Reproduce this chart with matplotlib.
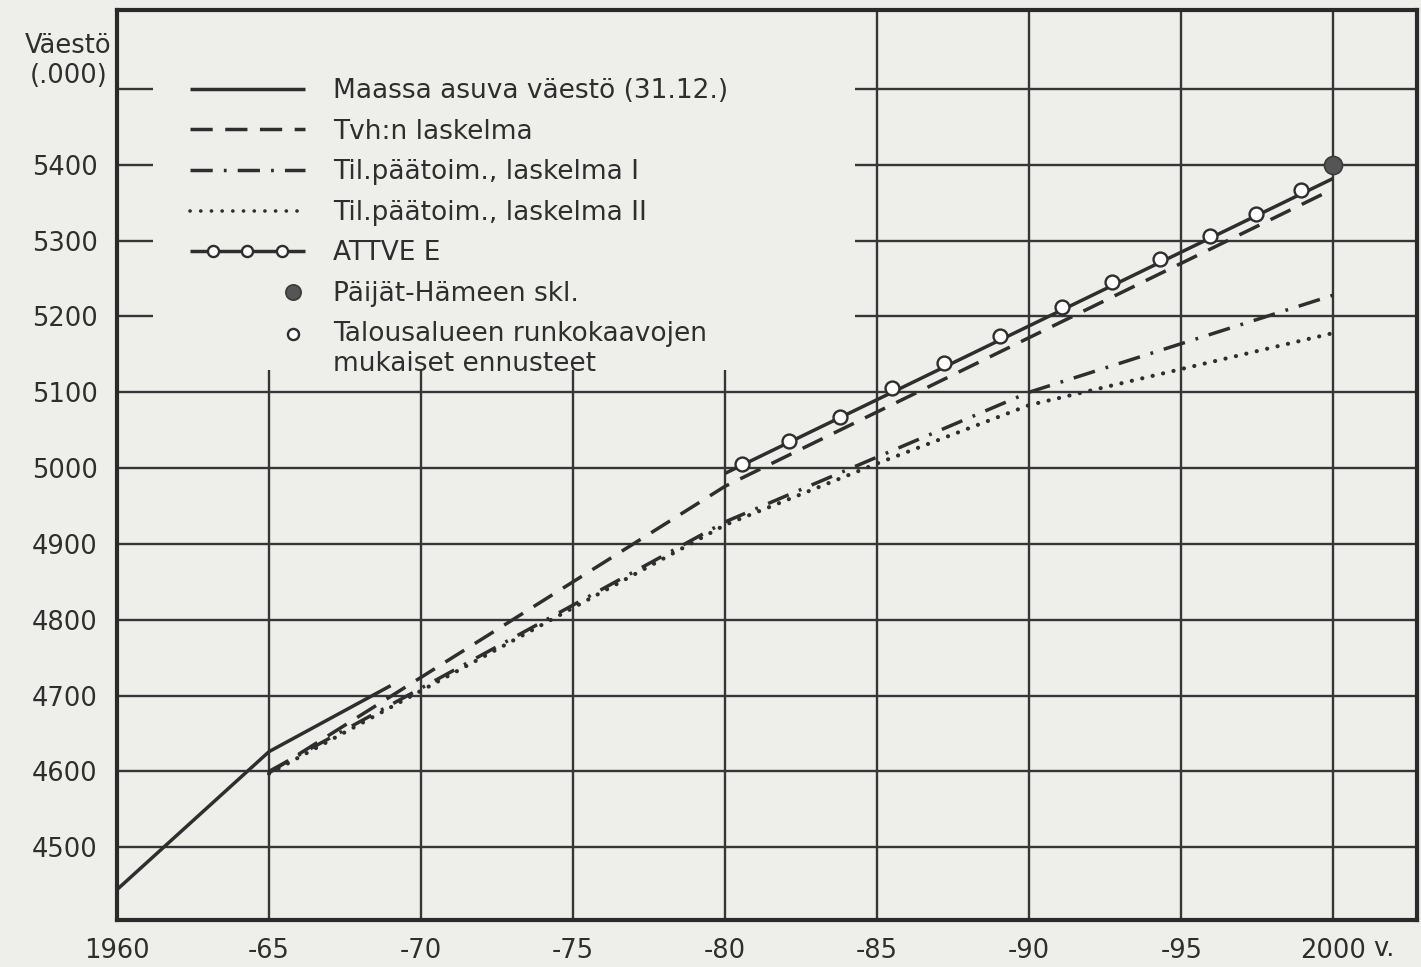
import numpy as np
import matplotlib
matplotlib.use("Agg")
import matplotlib.pyplot as plt
from matplotlib.lines import Line2D
from matplotlib.patches import Rectangle

plt.rcParams['font.family'] = ['DejaVu Sans']
plt.rcParams['lines.scale_dashes'] = False

""" data read off the chart (population, thousands) """
maassa_years = [1960, 1965, 1969]
maassa_vals = [4444, 4626, 4713]

tvh_years = [1965, 1980, 2000]
tvh_vals = [4598, 4976, 5368]

til1_years = [1965, 1980, 1990, 2000]
til1_vals = [4600, 4929, 5100, 5228]

til2_years = [1965, 1980, 1985, 1990, 2000]
til2_vals = [4597, 4925, 5006, 5083, 5178]

attve_years = [1980, 2000]
attve_vals = [4993, 5382]
# open circles drawn along the ATTVE E line
circle_years = [1980.55, 1982.1, 1983.76, 1985.5, 1987.2, 1989.05,
                1991.06, 1992.72, 1994.3, 1995.93, 1997.44, 1998.95]
circle_vals = [5005, 5036, 5067, 5105, 5138, 5174,
               5212, 5245, 5275, 5306, 5335, 5367]

paijat_years = [2000]
paijat_vals = [5400]

x_ticks = [1960, 1965, 1970, 1975, 1980, 1985, 1990, 1995, 2000]
x_labels = ['1960', '-65', '-70', '-75', '-80', '-85', '-90', '-95', '2000']
y_ticks = [4500, 4600, 4700, 4800, 4900, 5000, 5100, 5200, 5300, 5400, 5500]
y_labels = ['4500', '4600', '4700', '4800', '4900', '5000', '5100', '5200',
            '5300', '5400', '']

labels = ['Maassa asuva väestö (31.12.)',
          'Tvh:n laskelma',
          'Til.päätoim., laskelma I',
          'Til.päätoim., laskelma II',
          'ATTVE E',
          'Päijät-Hämeen skl.',
          'Talousalueen runkokaavojen\nmukaiset ennusteet']

""" styles """
ink = '#2e2e2e'
paper = '#eeeeeb'
lw = 2.5
solid = dict(color=ink, lw=lw, solid_capstyle='butt')
dashed = dict(color=ink, lw=lw, linestyle=(0, (16, 9)), dash_capstyle='butt')
dashdot = dict(color=ink, lw=lw, linestyle=(0, (16, 8, 2, 8)), dash_capstyle='butt')
dotted = dict(color=ink, lw=3.0, linestyle=(0, (0.1, 7.6)), dash_capstyle='round')
open_c = dict(marker='o', ms=10, mfc='white', mec=ink, mew=1.7)
filled_c = dict(marker='o', ms=13, mfc='#555555', mec='#3a3a3a', mew=1.2)


class Key:
    """legend key: optional line plus markers at given fractions of the width"""
    def __init__(self, line=None, marks=(), mstyle=None, lift=0.0):
        self.line = line
        self.marks = marks
        self.mstyle = mstyle
        self.lift = lift

    def legend_artist(self, legend, orig_handle, fontsize, handlebox):
        xd, yd = handlebox.xdescent, handlebox.ydescent
        w, h = handlebox.width, handlebox.height
        yc = (h - yd) / 2 + self.lift * fontsize
        art = None
        if self.line is not None:
            art = Line2D([-xd, -xd + w], [yc, yc], **self.line)
            handlebox.add_artist(art)
        for f in self.marks:
            m = Line2D([-xd + f * w], [yc], linestyle='none', **self.mstyle)
            handlebox.add_artist(m)
            art = m
        return art


fig = plt.figure(figsize=(14.21, 9.67), dpi=100, facecolor=paper)
ax = fig.add_axes([0.0823, 0.0486, 0.9149, 0.9411])
ax.set_facecolor(paper)

l1, = ax.plot(maassa_years, maassa_vals, **solid)
l2, = ax.plot(tvh_years, tvh_vals, **dashed)
l3, = ax.plot(til1_years, til1_vals, **dashdot)
l4, = ax.plot(til2_years, til2_vals, **dotted)
l5, = ax.plot(attve_years, attve_vals, **solid)
ax.plot(circle_years, circle_vals, linestyle='none', zorder=4, **open_c)
l6, = ax.plot(paijat_years, paijat_vals, linestyle='none', zorder=5,
              clip_on=False, **filled_c)
l7 = Line2D([], [], linestyle='none', **open_c)

ax.set_xlim(1960, 2002.75)
ax.set_ylim(4404, 5604)
ax.set_xticks(x_ticks)
ax.set_xticklabels(x_labels)
ax.set_yticks(y_ticks)
ax.set_yticklabels(y_labels)
ax.tick_params(length=0, labelsize=18.5, colors=ink)
ax.tick_params(axis='y', pad=14)
ax.tick_params(axis='x', pad=13)

ax.set_axisbelow(True)
ax.grid(True, color='#363636', lw=1.7)
for s in ax.spines.values():
    s.set_linewidth(3)
    s.set_color('#2a2a2a')

# blank area behind the legend (grid is not drawn there)
ax.add_patch(Rectangle((0.0277, 0.6044), 0.54, 0.3956, transform=ax.transAxes,
                       facecolor=paper, edgecolor='none', zorder=1))

ax.text(-0.004, 0.975, 'Väestö\n(.000)', transform=ax.transAxes, ha='right',
        va='top', multialignment='center', fontsize=18.5, color=ink)
ax.text(2001.3, -0.0175, 'v.', transform=ax.get_xaxis_transform(), ha='left',
        va='top', fontsize=18.5, color=ink)

hmap = {
    l1: Key(line=solid),
    l2: Key(line=dashed),
    l3: Key(line=dashdot),
    l4: Key(line=dict(dotted, lw=2.6)),
    l5: Key(line=solid, marks=(0.2, 0.5, 0.8), mstyle=dict(open_c, ms=8)),
    l6: Key(marks=(0.9,), mstyle=dict(filled_c, ms=11)),
    l7: Key(marks=(0.9,), mstyle=dict(open_c, ms=8), lift=0.6),
}
leg = ax.legend([l1, l2, l3, l4, l5, l6, l7], labels, handler_map=hmap,
                loc='upper left', bbox_to_anchor=(0.056, 0.925),
                frameon=False, borderpad=0, borderaxespad=0,
                handlelength=4.36, handletextpad=1.06, labelspacing=0.55,
                fontsize=19)
for t in leg.get_texts():
    t.set_color(ink)

plt.savefig("out.png", dpi=100, facecolor=paper)
